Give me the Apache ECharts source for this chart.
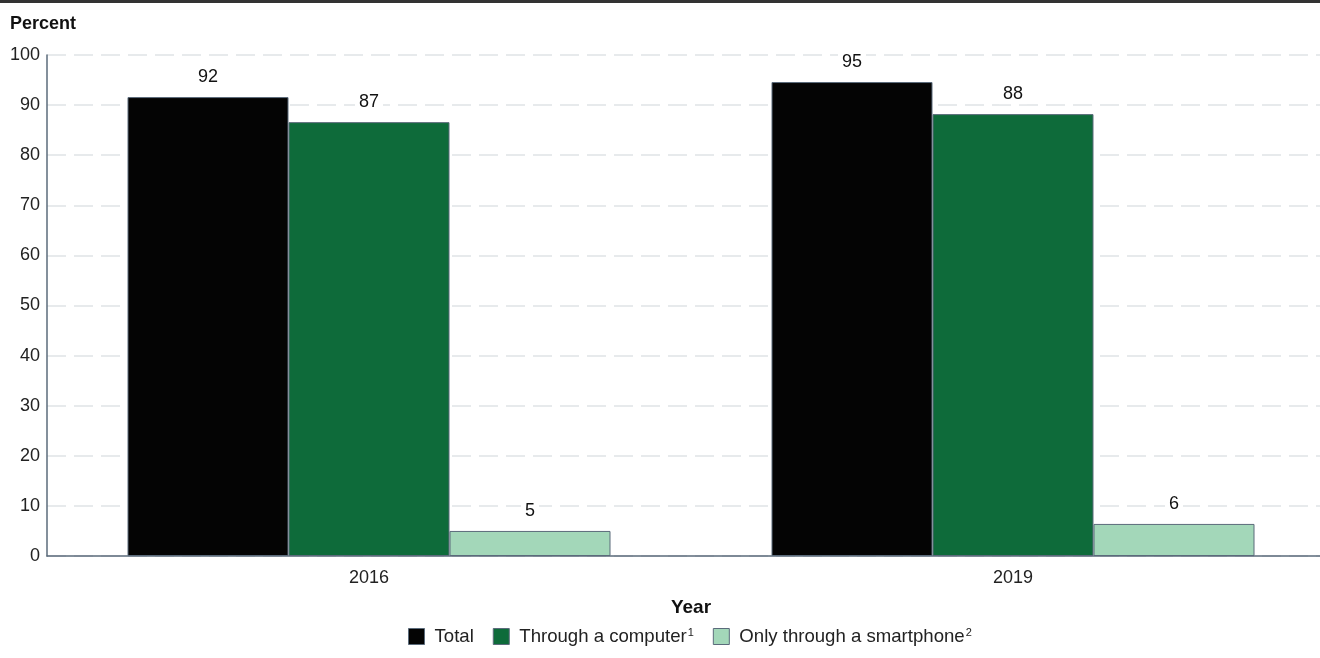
<!DOCTYPE html>
<html><head><meta charset="utf-8">
<script src="https://cdn.jsdelivr.net/npm/echarts@6/dist/echarts.min.js"></script>
<style>html,body{margin:0;padding:0;background:#fff}#c{width:1320px;height:658px}</style>
</head><body><div id="c"></div>
<script>
const categories = ['2016', '2019'];
const totalValues = [91.6, 94.6];
const computerValues = [86.6, 88.2];
const smartphoneValues = [5.0, 6.4];
const seriesNames = ['Total', 'Through a computer', 'Only through a smartphone'];
const footnotes = ['', '1', '2'];
const yTicks = [0, 10, 20, 30, 40, 50, 60, 70, 80, 90, 100];

const chart = echarts.init(document.getElementById('c'), null, {renderer: 'canvas'});
const font = 'Arial, "Liberation Sans", Helvetica, sans-serif';
const colors = ['#040404', '#0e6b3a', '#a3d7b9'];
const lbl = {
  show: true, position: 'top', distance: 10, color: '#111', fontSize: 18, fontFamily: font,
  backgroundColor: '#fff', padding: [1, 4],
  formatter: p => Math.round(p.value)
};
function mk(name, data, i) {
  return {
    name, type: 'bar', data, barGap: 0, barCategoryGap: '25%',
    itemStyle: {color: colors[i], borderColor: '#5b6b7b', borderWidth: 1},
    label: lbl, emphasis: {disabled: true}
  };
}
chart.setOption({
  animation: false,
  graphic: [
    {type: 'rect', shape: {x: 0, y: 0, width: 1320, height: 3}, style: {fill: '#333'}},
    {type: 'text', left: 10, top: 15, style: {text: 'Percent', font: 'bold 18px ' + font, fill: '#111'}}
  ],
  legend: {
    bottom: 7, left: 403, padding: 5,
    itemWidth: 16, itemHeight: 16, itemGap: 19,
    icon: 'rect',
    formatter: name => {
      const i = seriesNames.indexOf(name);
      return '{g|\u00a0}' + name + (footnotes[i] ? '{sup|' + footnotes[i] + '}' : '');
    },
    textStyle: {fontSize: 18.6, fontFamily: font, color: '#222',
      rich: {
        g: {width: 5, fontSize: 18.6},
        sup: {fontSize: 11, fontFamily: font, color: '#222', verticalAlign: 'top', padding: [0, 0, 8, 1]}
      }},
    data: seriesNames.map((n, i) => ({name: n, itemStyle: {color: colors[i], borderColor: '#5b6b7b', borderWidth: 1}}))
  },
  grid: {left: 47, width: 1288, top: 55, bottom: 102, containLabel: false, outerBoundsMode: 'none'},
  xAxis: {
    type: 'category', data: categories,
    name: 'Year', nameLocation: 'middle', nameGap: 42,
    nameTextStyle: {fontWeight: 'bold', fontSize: 19, fontFamily: font, color: '#111'},
    axisLine: {lineStyle: {color: '#5b6b7b', width: 1.5}},
    axisTick: {show: false},
    axisLabel: {fontSize: 18, fontFamily: font, color: '#222', margin: 13}
  },
  yAxis: {
    type: 'value', min: yTicks[0], max: yTicks[yTicks.length - 1], interval: 10,
    axisLine: {show: true, lineStyle: {color: '#5b6b7b', width: 1.5}},
    axisTick: {show: false},
    axisLabel: {fontSize: 18, fontFamily: font, color: '#222', margin: 7},
    splitLine: {lineStyle: {color: '#dfe3e6', width: 1.5, type: [19, 8]}}
  },
  series: [
    mk(seriesNames[0], totalValues, 0),
    mk(seriesNames[1], computerValues, 1),
    mk(seriesNames[2], smartphoneValues, 2)
  ]
});
</script></body></html>
